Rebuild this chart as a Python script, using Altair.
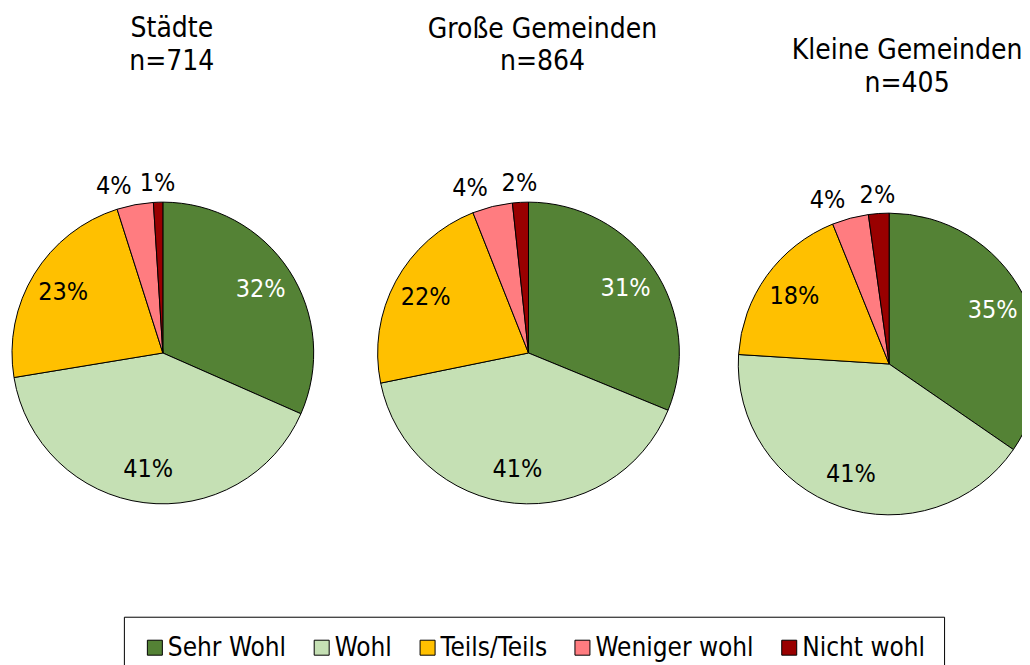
import altair as alt
import pandas as pd

categories = ["Sehr Wohl", "Wohl", "Teils/Teils", "Weniger wohl", "Nicht wohl"]
colors = ["#548235", "#C5E0B4", "#FFC000", "#FF7C80", "#990000"]
groups = ["Städte", "Große Gemeinden", "Kleine Gemeinden"]
sample_sizes = [714, 864, 405]
staedte = [31.6, 40.8, 22.7, 3.9, 1.0]
grosse = [31.2, 40.6, 22.2, 4.3, 1.7]
kleine = [34.6, 41.4, 17.9, 3.9, 2.2]
series = [staedte, grosse, kleine]

FONT = "DejaVu Sans Condensed, DejaVu Sans"

legend = alt.Legend(
    orient="none", legendX=116, legendY=419, direction="horizontal", title=None,
    strokeColor="black", fillColor="white", padding=18,
    symbolType="square", symbolSize=225, symbolStrokeColor="black", symbolStrokeWidth=1,
    labelFont=FONT, labelFontSize=26, labelColor="black", labelOffset=0, columnPadding=22,
)


def panel(i, width, height, title_offset, title_dx):
    df = pd.DataFrame({"cat": categories, "order": list(range(len(categories))), "value": series[i]})
    base = alt.Chart(df).transform_calculate(label="format(datum.value, '.0f') + '%'")
    theta = alt.Theta("value:Q", stack=True)
    order = alt.Order("order:Q")
    arcs = base.mark_arc(outerRadius=151, stroke="black", strokeWidth=1).encode(
        theta=theta, order=order,
        color=alt.Color("cat:N", scale=alt.Scale(domain=categories, range=colors), sort=categories, legend=legend),
    )
    inner = base.mark_text(radius=117, fontSize=25, font=FONT).encode(
        theta=theta, order=order,
        text=alt.condition("datum.value >= 5", alt.Text("label:N"), alt.value("")),
        color=alt.condition("datum.cat == 'Sehr Wohl'", alt.value("white"), alt.value("black")),
    )
    out_w = base.mark_text(radius=170, fontSize=25, font=FONT, align="right", color="black").encode(
        theta=theta, order=order,
        text=alt.condition("datum.cat == 'Weniger wohl'", alt.Text("label:N"), alt.value("")),
    )
    out_n = base.mark_text(radius=170, fontSize=25, font=FONT, align="center", color="black").encode(
        theta=theta, order=order,
        text=alt.condition("datum.cat == 'Nicht wohl'", alt.Text("label:N"), alt.value("")),
    )
    return alt.layer(arcs, inner, out_w, out_n).properties(
        width=width, height=height,
        title=alt.TitleParams(
            text=[groups[i], f"n={sample_sizes[i]}"], font=FONT, fontSize=28, fontWeight="normal",
            color="black", lineHeight=33, anchor="middle", offset=title_offset, dx=title_dx,
        ),
    )


chart = alt.hconcat(
    panel(0, 310, 310, 95, 9),
    panel(1, 310, 310, 95, 14),
    panel(2, 300, 332, 85, 18),
    spacing=56, bounds="flush",
).resolve_scale(color="shared").resolve_legend(color="shared").properties(
    padding={"left": 0, "top": 7, "right": -20, "bottom": 0}
).configure_view(stroke=None)

chart.save("out.html", embed_options={"renderer": "svg", "actions": False})
